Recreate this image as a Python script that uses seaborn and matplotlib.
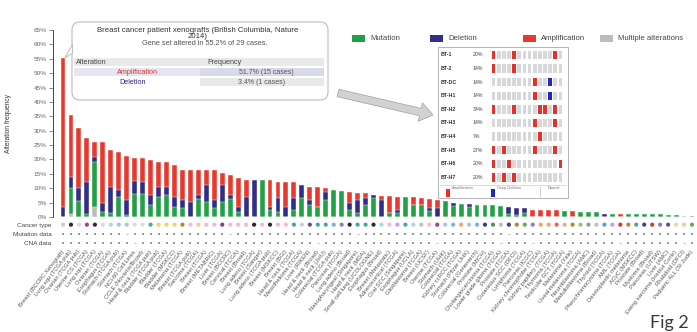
import numpy as np
import pandas as pd
import matplotlib
matplotlib.use("Agg")
import matplotlib.pyplot as plt
import seaborn as sns
from matplotlib.patches import FancyBboxPatch, Rectangle, FancyArrow, Polygon
from matplotlib.path import Path
from matplotlib.lines import Line2D

# ---------------- data ----------------
studies = [
    "Breast (BCCRC Xenograft)", "Lung squ (TCGA pub)", "Ovarian (TCGA pub)", "Uterine CS (TCGA)",
    "Lung squ (TCGA)", "Ovarian (TCGA)", "Esophagus (TCGA)", "Stomach (TCGA pub)", "Stomach (TCGA)",
    "NCI-60 Cell Lines", "CCLE (Novartis/Broad)", "Head & neck (TCGA pub)", "Bladder (TCGA pub)",
    "Bladder (TCGA)", "Bladder (MSKCC)", "Melanoma (TCGA)", "Breast (TCGA pub)", "Sarcoma (TCGA)",
    "Breast (TCGA)", "Breast (METABRIC)", "Liver (TCGA)", "Breast (BCCRC)", "Cervical (TCGA)",
    "Breast (Broad)", "Lung adeno (TCGA)", "Breast (Sanger)", "Lung adeno (TCGA pub)", "Breast (MSKCC)",
    "Breast (BGI)", "Head & neck (TCGA)", "Mesothelioma (TCGA)", "Liver (RIKEN)", "Head & neck (Broad)",
    "Head & neck (JHU)", "Colorectal (TCGA pub)", "Pancreas (TCGA)", "Lung adeno (Broad)",
    "Nasopharyngeal (Singapore)", "Head & neck (MDA)", "Small cell lung (UCOLOGNE)", "Esophagus (Broad)",
    "Breast (Metastatic)", "Adrenocortical (TCGA)", "Oral SCC (Singapore)", "Esophagus (UCLA)",
    "Glioblastoma (TCGA)", "Breast (UCSF)", "Uterine (TCGA)", "Stomach (UHK)", "Colorectal (TCGA)",
    "Kidney ccRCC (TCGA)", "Stomach (Pfizer UHK)", "Colorectal (Genentech)", "Prostate (MICH)",
    "Cholangiocarcinoma (TCGA)", "Lower grade glioma (TCGA)", "Prostate (TCGA)", "Cutaneous SCC (DFCI)",
    "Lymphoma (TCGA)", "Pancreas (ICGC)", "Kidney chromophobe (TCGA)", "Kidney papillary (TCGA)",
    "Thymoma (TCGA)", "Testicular GCT (TCGA)", "Melanoma (Yale)", "Uveal melanoma (TCGA)",
    "Neuroblastoma (AMC)", "Medulloblastoma (Broad)", "Thyroid (TCGA)", "Pheochromocytoma (TCGA)",
    "AML (TCGA)", "Desmoplastic melanoma", "ACyC (MSKCC)", "Prostate (Broad)", "Myeloma (Broad)",
    "Pancreas (UTSW)", "Liver (AMC)", "Ewing sarcoma (Institut Curie)", "Rhabdoid (DFCI)",
    "Pediatric ALL (St Jude)",
]

mutation = [0, 9, 5.5, 1, 15.5, 1.8, 1.4, 7, 0.7, 8,
            8, 4, 7, 7.5, 3.5, 3, 0, 6.4, 5.3, 3,
            5.3, 6.4, 1.8, 0, 0, 12.8, 2.4, 1.8, 0, 2.4,
            6.6, 4.2, 3.6, 5.9, 9.4, 9.1, 2.5, 1.3, 4.2, 6.5,
            0, 1.4, 1.3, 6.9, 4.2, 4.0, 2.0, 0, 5.4, 3.7,
            4.5, 3.5, 4.2, 4.2, 4.2, 3.8, 1.0, 0.8, 1.5, 0,
            0, 0, 0, 2.1, 0, 1.8, 1.8, 1.7, 0, 1.2,
            0, 1.2, 1.2, 1.0, 1.0, 1.0, 0.6, 0.6, 0, 0.4]
deletion = [3.4, 4, 4.5, 11, 1.8, 3, 9, 2.4, 5.2, 4.5,
            4.3, 3.5, 3.5, 3, 3.5, 2.9, 5.3, 1.2, 5.8, 2.9,
            5.8, 1.2, 1.8, 7, 12.8, 0, 1.2, 4.7, 3.6, 4.1,
            4.5, 1.7, 0, 2.9, 0, 0, 2.4, 4.6, 2.3, 1.1,
            5.9, 0, 1.2, 0, 0, 0, 1.0, 3.0, 0, 1.0,
            0, 1.0, 0, 0, 0, 0, 2.4, 2.3, 1.6, 0,
            0, 0, 0, 0, 0, 0, 0, 0, 1.2, 0,
            0, 0, 0, 0, 0, 0, 0, 0, 0, 0]
amplification = [51.8, 21.4, 20.8, 15.3, 5.3, 21.3, 12.9, 13.3, 15.3, 7.9,
                 8.1, 12.3, 8.7, 8.7, 11.1, 10.4, 11, 8.6, 5.1, 10.3,
                 4.3, 7, 9.8, 5.8, 0, 0, 9.2, 5.8, 8.7, 5.5,
                 0, 4.6, 6.9, 1.2, 0, 0, 3.7, 2.3, 1.7, 0,
                 1.4, 5.8, 4.5, 0, 2.6, 2.5, 3.1, 2.9, 0, 0,
                 0, 0, 0, 0, 0, 0, 0, 0, 0, 2.4,
                 2.4, 2.4, 2.4, 0, 2.1, 0, 0, 0, 0, 0,
                 1.2, 0, 0, 0, 0, 0, 0, 0, 0, 0]
multiple = [0, 1, 0, 0, 3.5, 0, 0, 0, 0, 0,
            0, 0, 0, 0, 0, 0, 0, 0, 0, 0,
            0, 0, 0, 0, 0, 0, 0, 0, 0, 0,
            0, 0, 0, 0, 0, 0, 0, 0, 0, 0,
            0, 0, 0, 0, 0, 0, 0, 0, 0, 0,
            0, 0, 0, 0, 0, 0, 0, 0, 0, 0,
            0, 0, 0, 0, 0, 0, 0, 0, 0, 0,
            0, 0, 0, 0, 0, 0, 0, 0, 0.4, 0]

cancer_types = ["breast", "lung", "ovary", "uterus", "lung", "ovary", "esophagus", "stomach", "stomach", "other",
                "other", "head_neck", "bladder", "bladder", "bladder", "skin", "breast", "soft_tissue", "breast", "breast",
                "liver", "breast", "cervix", "breast", "lung", "breast", "lung", "breast", "breast", "head_neck",
                "pleura", "liver", "head_neck", "head_neck", "bowel", "pancreas", "lung", "head_neck", "head_neck", "lung",
                "esophagus", "breast", "adrenal", "head_neck", "esophagus", "brain", "breast", "uterus", "stomach", "bowel",
                "kidney", "stomach", "bowel", "prostate", "biliary", "brain", "prostate", "skin", "lymphoid", "pancreas",
                "kidney", "kidney", "thymus", "testis", "skin", "eye", "nervous", "brain", "thyroid", "adrenal",
                "myeloid", "skin", "head_neck", "prostate", "myeloid", "pancreas", "liver", "bone", "soft_tissue", "lymphoid"]
mutation_data = [1, 1, 1, 1, 1, 1, 1, 1, 0, 1, 1, 1, 1, 1, 1, 1, 1, 1, 1, 1,
                 1, 0, 1, 1, 1, 1, 1, 1, 1, 1, 1, 1, 1, 1, 1, 1, 1, 0, 1, 1,
                 1, 1, 1, 1, 1, 1, 1, 1, 1, 1, 1, 1, 1, 1, 1, 1, 0, 1, 1, 1,
                 1, 1, 1, 1, 1, 1, 1, 1, 1, 1, 1, 1, 1, 1, 1, 1, 1, 1, 1, 1]
cna_data = [1, 1, 1, 1, 1, 1, 1, 1, 1, 0, 1, 1, 1, 1, 1, 1, 1, 1, 1, 1,
            1, 1, 1, 1, 1, 1, 1, 1, 1, 1, 1, 1, 0, 1, 1, 1, 1, 1, 1, 1,
            1, 1, 1, 1, 1, 1, 1, 0, 1, 1, 1, 1, 1, 1, 1, 0, 1, 1, 1, 0,
            1, 1, 1, 1, 1, 1, 1, 1, 1, 1, 0, 1, 1, 1, 1, 1, 1, 1, 0, 1]

yticks = list(range(0, 70, 5))
ytick_labels = [f"{v}%" for v in yticks]
legend_labels = ["Mutation", "Deletion", "Amplification", "Multiple alterations"]
track_labels = ["Cancer type", "Mutation data", "CNA data"]

tooltip_title = ["Breast cancer patient xenografts (British Columbia, Nature", "2014)"]
tooltip_summary = "Gene set altered in 55.2% of 29 cases."
tooltip_header = ["Alteration", "Frequency"]
tooltip_alts = ["Amplification", "Deletion"]
tooltip_freqs = ["51.7% (15 cases)", "3.4% (1 cases)"]

onco_genes = ["BT-1", "BT-2", "BT-DC", "BT-H1", "BT-H2", "BT-H3", "BT-H4", "BT-H5", "BT-H6", "BT-H7"]
onco_pct = ["20%", "14%", "14%", "14%", "34%", "14%", "7%", "27%", "20%", "20%"]
onco_amp = [[0, 4, 12], [0, 4], [8], [8], [0, 4, 9, 10, 12], [8, 12], [9], [0, 2, 8, 12], [0, 3, 13], [0, 2, 4]]
onco_del = [[], [], [11], [11], [], [], [], [], [], []]
onco_cases = 14
onco_legend = ["Amplification", "Deep Deletion", "Normal"]

# ---------------- style ----------------
COL_MUT, COL_DEL, COL_AMP, COL_MULT = "#22a046", "#322d88", "#e8392e", "#bcbcbc"
cancer_palette = {
    "breast": "#f5b8d2", "lung": "#2b2b2b", "ovary": "#e2d3ee", "uterus": "#b03a8c",
    "esophagus": "#a8d4ec", "stomach": "#9fc9e3", "other": "#dcdcdc", "head_neck": "#47a6a6",
    "bladder": "#f1d26a", "skin": "#b7862f", "soft_tissue": "#f3c9a6", "liver": "#6c4a8f",
    "cervix": "#f0b8c8", "pleura": "#cfcfcf", "bowel": "#7fb3d5", "pancreas": "#8e7cc3",
    "adrenal": "#c9a0dc", "brain": "#c0c0c0", "kidney": "#f4a261", "prostate": "#3d3d8f",
    "biliary": "#5b8f5b", "lymphoid": "#6aa84f", "thymus": "#e06666", "testis": "#d9b38c",
    "eye": "#93c47d", "nervous": "#999999", "thyroid": "#4fa3c7", "myeloid": "#cc4125",
    "bone": "#e0d9b0",
}

sns.set_theme(style="white")
plt.rcParams['font.family'] = ['Liberation Sans', 'DejaVu Sans']

W, H = 697, 332
fig = plt.figure(figsize=(W / 100, H / 100), dpi=100)
fig.patch.set_facecolor("white")
T = fig.dpi_scale_trans


def fx(x):
    return x / W


def fy(y):
    return 1 - y / H


def ftxt(x, y, s, **kw):
    kw.setdefault("zorder", 12)
    return fig.text(x / 100.0, (H - y) / 100.0, s, transform=T, **kw)


def frect(x0, y0, x1, y1, **kw):
    r = Rectangle((x0 / 100.0, (H - y1) / 100.0), (x1 - x0) / 100.0, (y1 - y0) / 100.0, transform=T, **kw)
    fig.add_artist(r)
    return r


n = len(studies)
idx = np.arange(n)
mut = np.array(mutation)
dele = np.array(deletion)
amp = np.array(amplification)
mult = np.array(multiple)

XL = (-1.26, 79.63)

# ---------------- main bars ----------------
ax = fig.add_axes([fx(53), fy(217), fx(697) - fx(53), fy(30) - fy(217)])
layers = [(mult + mut + dele + amp, COL_AMP), (mult + mut + dele, COL_DEL), (mult + mut, COL_MUT), (mult, COL_MULT)]
for vals, col in layers:
    sns.barplot(x=idx, y=vals, color=col, width=0.62, saturation=1, errorbar=None,
                edgecolor="white", linewidth=0.3, ax=ax)
ax.set_xlim(*XL)
ax.set_ylim(0, 65)
ax.set_xticks([])
ax.set_xlabel("")
ax.set_yticks(yticks)
ax.set_yticklabels(ytick_labels, fontsize=4.6, color="#666666")
ax.tick_params(axis="y", left=True, length=3, width=0.5, color="#555555", pad=1.5)
for s in ["top", "right", "bottom"]:
    ax.spines[s].set_visible(False)
ax.spines["left"].set_color("#444444")
ax.spines["left"].set_linewidth(0.7)
ax.set_ylabel("Alteration frequency", fontsize=4.8, color="#333333")
ax.yaxis.set_label_coords(-(53 - 12) / 644, 0.5)
ax.patch.set_alpha(0)

# ---------------- tracks ----------------
ax2 = fig.add_axes([fx(53), fy(248), fx(697) - fx(53), fy(220) - fy(248)])
sns.scatterplot(x=idx, y=np.zeros(n), hue=cancer_types, palette=cancer_palette, marker="o",
                s=9, linewidth=0, legend=False, ax=ax2)
md = np.array(mutation_data)
cd = np.array(cna_data)
sns.scatterplot(x=idx[md == 1], y=np.ones((md == 1).sum()), color="#9a9a9a", marker="s", s=3.5,
                linewidth=0, ax=ax2)
sns.scatterplot(x=idx[md == 0], y=np.ones((md == 0).sum()), color="#9a9a9a", marker="_", s=3,
                linewidth=0.5, ax=ax2)
sns.scatterplot(x=idx[cd == 1], y=2 * np.ones((cd == 1).sum()), color="#9a9a9a", marker="s", s=3.5,
                linewidth=0, ax=ax2)
sns.scatterplot(x=idx[cd == 0], y=2 * np.ones((cd == 0).sum()), color="#9a9a9a", marker="_", s=3,
                linewidth=0.5, ax=ax2)
ax2.set_xlim(*XL)
ax2.set_ylim(2.5, -0.5)
ax2.set_yticks([0, 1, 2])
ax2.set_yticklabels(track_labels, fontsize=4.6, color="#444444")
ax2.set_xticks(idx)
ax2.set_xticklabels(studies, rotation=52, ha="right", va="center", rotation_mode="anchor",
                    fontsize=4.2, color="#555555")
ax2.tick_params(axis="both", length=0)
ax2.tick_params(axis="x", pad=2)
ax2.tick_params(axis="y", pad=1)
ax2.set_xlabel("")
ax2.set_ylabel("")
for s in ax2.spines.values():
    s.set_visible(False)
ax2.patch.set_alpha(0)

# ---------------- legend ----------------
leg_x = [352, 430, 523, 600]
leg_cols = [COL_MUT, COL_DEL, COL_AMP, COL_MULT]
for lx, lc, lab in zip(leg_x, leg_cols, legend_labels):
    frect(lx, 35, lx + 13, 42, fc=lc, ec="none", zorder=6)
    ftxt(lx + 18, 38.8, lab, fontsize=5.6, color="#444444", va="center", ha="left")

# ---------------- tooltip ----------------
box = FancyBboxPatch((72 / 100, (H - 100) / 100), (328 - 72) / 100, (100 - 22) / 100,
                     boxstyle="round,pad=0,rounding_size=0.08", transform=T,
                     fc="white", ec="#bdbdbd", lw=0.8, zorder=5)
fig.add_artist(box)
tail = Polygon([(72.6 / 100, (H - 44) / 100), (72.6 / 100, (H - 53) / 100), (65 / 100, (H - 58) / 100)],
               closed=True, transform=T, fc="white", ec="#bdbdbd", lw=0.7, zorder=5)
fig.add_artist(tail)
ftxt(198, 30.5, tooltip_title[0], fontsize=5.6, color="#333333", ha="center", va="center")
ftxt(198, 36.5, tooltip_title[1], fontsize=5.6, color="#333333", ha="center", va="center")
ftxt(205, 43.5, tooltip_summary, fontsize=5.3, color="#555555", ha="center", va="center")
frect(74, 58, 324, 66, fc="#e9e9e9", ec="none", zorder=6)
frect(74, 68, 200, 76, fc="#e6e6f2", ec="none", zorder=6)
frect(200, 68, 324, 76, fc="#d9d9ec", ec="none", zorder=6)
frect(200, 78, 324, 86, fc="#e8e8e8", ec="none", zorder=6)
ftxt(76, 62, tooltip_header[0], fontsize=5.2, color="#444444", ha="left", va="center")
ftxt(207, 62, tooltip_header[1], fontsize=5.2, color="#444444", ha="left", va="center")
ftxt(137, 72, tooltip_alts[0], fontsize=5.2, color="#e0302a", ha="center", va="center")
ftxt(266, 72, tooltip_freqs[0], fontsize=5.0, color="#555555", ha="center", va="center")
ftxt(133, 82, tooltip_alts[1], fontsize=5.2, color="#2a2a80", ha="center", va="center")
ftxt(262, 82, tooltip_freqs[1], fontsize=5.0, color="#555555", ha="center", va="center")

# ---------------- arrow ----------------
arr = FancyArrow(338 / 100, (H - 93) / 100, (433 - 338) / 100, -(115 - 93) / 100,
                 width=0.075, head_width=0.19, head_length=0.13, length_includes_head=True,
                 transform=T, fc="#d2d2d2", ec="#a8a8a8", lw=0.6, zorder=5)
fig.add_artist(arr)

# ---------------- oncoprint inset ----------------
frect(438, 47, 568, 198, fc="white", ec="#a8a8a8", lw=0.6, zorder=5)
fig.add_artist(Line2D([440 / 100, 566 / 100], [(H - 185) / 100] * 2, transform=T, color="#cccccc", lw=0.5, zorder=6))
fig.add_artist(Line2D([540 / 100, 540 / 100], [(H - 186) / 100, (H - 197) / 100], transform=T, color="#bbbbbb", lw=0.5, zorder=6))

rows = []
for r, g in enumerate(onco_genes):
    for c in range(onco_cases):
        st = "amp" if c in onco_amp[r] else ("del" if c in onco_del[r] else "none")
        rows.append({"gene": r, "case": c, "state": st})
onco_df = pd.DataFrame(rows)

rect_marker = Path([(-0.42, -1), (0.42, -1), (0.42, 1), (-0.42, 1), (-0.42, -1)],
                   [Path.MOVETO, Path.LINETO, Path.LINETO, Path.LINETO, Path.CLOSEPOLY])
ax3 = fig.add_axes([fx(491), fy(184.2), (563 - 491) / W, (184.2 - 48.2) / H])
ax3.set_zorder(10)
sns.scatterplot(data=onco_df, x="case", y="gene", hue="state",
                palette={"none": "#d6d8da", "amp": "#e8302a", "del": "#2424c8"},
                marker=rect_marker, s=38, linewidth=0, legend=False, ax=ax3)
ax3.set_xlim(-0.5, onco_cases - 0.5)
ax3.set_ylim(len(onco_genes) - 0.5, -0.5)
ax3.axis("off")

for r, (g, p) in enumerate(zip(onco_genes, onco_pct)):
    yy = 55 + 13.6 * r
    ftxt(441, yy, g, fontsize=3.8, fontweight="bold", color="#333333", ha="left", va="center", zorder=12)
    ftxt(473, yy, p, fontsize=3.8, color="#444444", ha="left", va="center", zorder=12)

frect(446, 189, 449.5, 197, fc="#e8302a", ec="none", zorder=7)
frect(491, 189, 494.5, 197, fc="#2424c8", ec="none", zorder=7)
ftxt(452, 188, onco_legend[0], fontsize=2.8, color="#777777", ha="left", va="center")
ftxt(497, 188, onco_legend[1], fontsize=2.8, color="#777777", ha="left", va="center")
ftxt(548, 188, onco_legend[2], fontsize=2.8, color="#777777", ha="left", va="center")

# ---------------- figure label ----------------
ftxt(650, 328, "Fig 2", fontsize=13, color="#3a3a3a", ha="left", va="baseline",
     family=["Lato", "DejaVu Sans"])

fig.savefig("out.png", dpi=100, facecolor="white")
